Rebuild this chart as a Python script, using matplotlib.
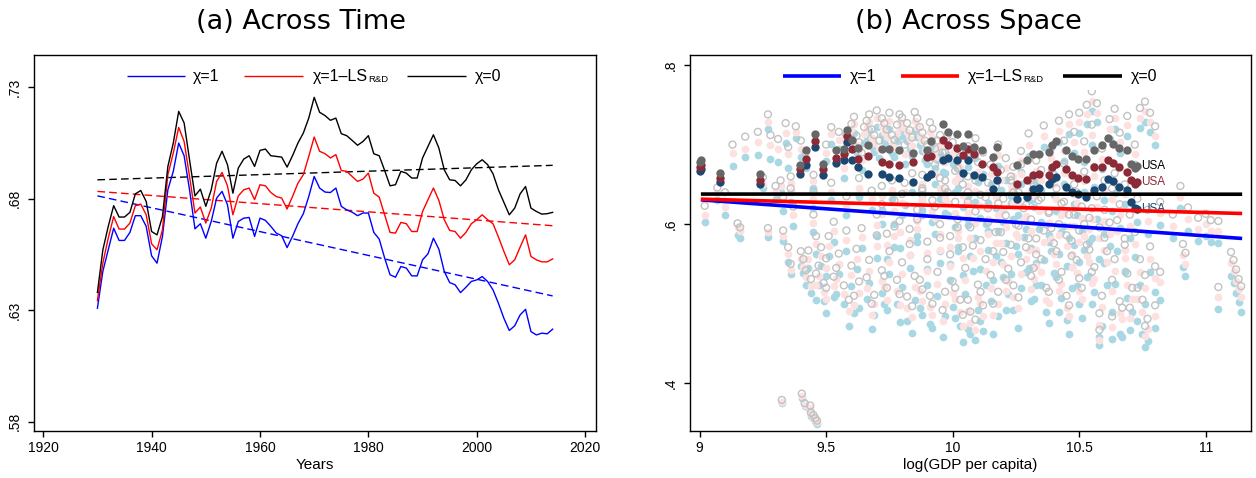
import matplotlib
matplotlib.use("Agg")
import matplotlib.pyplot as plt
from matplotlib.lines import Line2D
from matplotlib.patches import Rectangle

plt.rcParams['font.family'] = ['Liberation Sans', 'DejaVu Sans']

# ---------------- Panel (a): across time ----------------
years = list(range(1930, 2015))
chi0_time = [0.638, 0.657, 0.6676, 0.6769, 0.6718, 0.6718, 0.6739, 0.6822, 0.6837, 0.6788,
             0.6653, 0.6638, 0.672, 0.6945, 0.705, 0.7192, 0.714, 0.6975, 0.6813, 0.6843,
             0.6766, 0.684, 0.696, 0.7013, 0.6953, 0.6825, 0.6938, 0.6978, 0.6993, 0.6945,
             0.7017, 0.7023, 0.6993, 0.699, 0.6987, 0.6942, 0.6993, 0.705, 0.7095, 0.7162,
             0.7255, 0.7188, 0.7173, 0.7152, 0.7162, 0.7092, 0.7083, 0.7062, 0.704, 0.7057,
             0.7083, 0.7002, 0.6993, 0.6927, 0.6858, 0.6863, 0.6923, 0.6915, 0.6893, 0.6893,
             0.6983, 0.7035, 0.7087, 0.7028, 0.693, 0.6885, 0.6882, 0.6858, 0.6885, 0.693,
             0.6957, 0.6975, 0.6953, 0.6912, 0.684, 0.6784, 0.6728, 0.6758, 0.6822, 0.6855,
             0.6758, 0.6743, 0.6731, 0.6733, 0.6739]
chiLS_time = [0.6343, 0.6511, 0.6623, 0.672, 0.6664, 0.6664, 0.6691, 0.6769, 0.6776, 0.6728,
              0.6598, 0.6571, 0.6661, 0.6908, 0.7005, 0.712, 0.7057, 0.69, 0.6736, 0.6763,
              0.6691, 0.6758, 0.6878, 0.6918, 0.6858, 0.6728, 0.6813, 0.684, 0.6848, 0.6796,
              0.6863, 0.6858, 0.6828, 0.681, 0.6803, 0.6754, 0.681, 0.687, 0.6908, 0.699,
              0.7077, 0.7013, 0.7002, 0.6983, 0.6998, 0.6927, 0.6923, 0.69, 0.6878, 0.6888,
              0.6915, 0.6825, 0.6807, 0.6728, 0.6649, 0.6646, 0.6694, 0.6688, 0.6653, 0.6653,
              0.6743, 0.6796, 0.6848, 0.6793, 0.6706, 0.6658, 0.6653, 0.6623, 0.6649, 0.6688,
              0.6706, 0.6728, 0.6706, 0.6688, 0.6628, 0.6564, 0.6504, 0.6526, 0.6583, 0.6638,
              0.6541, 0.6526, 0.6517, 0.6517, 0.653]
chi1_time = [0.6309, 0.6474, 0.6571, 0.6668, 0.6613, 0.6613, 0.6649, 0.6724, 0.6724, 0.6676,
             0.6544, 0.6511, 0.6631, 0.684, 0.6923, 0.705, 0.6993, 0.684, 0.6665, 0.6688,
             0.6623, 0.6698, 0.6803, 0.6833, 0.6773, 0.6623, 0.6698, 0.6713, 0.6716, 0.6631,
             0.6713, 0.6703, 0.6676, 0.6646, 0.6634, 0.6581, 0.6631, 0.6688, 0.6733, 0.681,
             0.69, 0.6848, 0.683, 0.6828, 0.6848, 0.6766, 0.675, 0.674, 0.6724, 0.6736,
             0.6736, 0.6649, 0.6619, 0.6534, 0.6459, 0.6448, 0.6496, 0.6489, 0.6454, 0.6454,
             0.6526, 0.6553, 0.6623, 0.6574, 0.6474, 0.6424, 0.6414, 0.6379, 0.6403, 0.6429,
             0.6436, 0.6451, 0.6429, 0.6391, 0.6331, 0.6264, 0.6209, 0.623, 0.6279, 0.6304,
             0.6204, 0.6189, 0.6197, 0.6194, 0.6215]
trend_years = [1930, 2014]
trend_chi1 = [0.6813, 0.6364]
trend_chiLS = [0.6833, 0.6679]
trend_chi0 = [0.6885, 0.6950]
time_yticks = [0.58, 0.63, 0.68, 0.73]
time_yticklabels = ['.58', '.63', '.68', '.73']
time_xticks = [1920, 1940, 1960, 1980, 2000, 2020]

# ---------------- Panel (b): across space ----------------
left_x = [9.02, 9.07, 9.10, 9.13, 9.15, 9.16, 9.18, 9.23, 9.27, 9.28,
          9.25, 9.27, 9.31, 9.34, 9.35, 9.32, 9.33, 9.36, 9.38, 9.37]
left_chi0 = [0.623, 0.646, 0.640, 0.700, 0.601, 0.596, 0.710, 0.716, 0.738, 0.712,
             0.659, 0.595, 0.707, 0.727, 0.697, 0.655, 0.634, 0.645, 0.723, 0.622]
left_chiLS = [0.611, 0.639, 0.622, 0.689, 0.597, 0.591, 0.695, 0.703, 0.729, 0.700,
              0.650, 0.590, 0.695, 0.715, 0.688, 0.648, 0.628, 0.640, 0.716, 0.612]
left_chi1 = [0.603, 0.630, 0.612, 0.673, 0.586, 0.583, 0.684, 0.687, 0.719, 0.682,
             0.645, 0.584, 0.678, 0.702, 0.671, 0.641, 0.616, 0.628, 0.708, 0.598]

low_x = [9.33, 9.35, 9.36, 9.40, 9.41, 9.43, 9.42, 9.44, 9.45, 9.46,
         9.48, 9.47, 9.49, 9.50, 9.51, 9.53, 9.53, 9.55, 9.57, 9.58,
         9.60, 9.61, 9.62, 9.64, 9.66, 9.67, 9.69, 9.70, 9.72, 9.74,
         9.75, 9.77, 9.78, 9.80, 9.82, 9.83, 9.85, 9.86, 9.88, 9.90,
         9.92, 9.94, 9.95, 9.97, 9.99, 10.00, 10.02, 10.03, 10.05, 10.07,
         10.08, 10.10, 10.12, 10.13, 10.15, 10.17, 10.18, 10.20, 10.22, 10.24,
         10.25, 10.27, 10.29, 10.31, 10.33, 10.35, 10.37, 10.39, 10.41, 10.43,
         10.45, 10.47, 10.49, 10.50, 10.52, 10.54, 10.56, 10.58, 10.60, 10.62,
         10.64, 10.66, 10.68, 10.69, 10.71, 10.72, 10.74, 10.75, 10.76, 10.78,
         10.80]
low_chi0 = [0.592, 0.571, 0.550, 0.566, 0.556, 0.567, 0.542, 0.531, 0.612, 0.585,
            0.571, 0.548, 0.526, 0.557, 0.585, 0.534, 0.603, 0.563, 0.523, 0.592,
            0.548, 0.510, 0.569, 0.595, 0.533, 0.555, 0.511, 0.586, 0.542, 0.520,
            0.566, 0.597, 0.530, 0.552, 0.509, 0.575, 0.535, 0.606, 0.518, 0.556,
            0.500, 0.540, 0.583, 0.515, 0.562, 0.528, 0.596, 0.505, 0.545, 0.490,
            0.573, 0.524, 0.498, 0.556, 0.536, 0.590, 0.515, 0.565, 0.544, 0.523,
            0.600, 0.552, 0.571, 0.535, 0.582, 0.556, 0.520, 0.595, 0.566, 0.540,
            0.510, 0.579, 0.555, 0.532, 0.600, 0.568, 0.546, 0.488, 0.583, 0.602,
            0.556, 0.503, 0.574, 0.538, 0.520, 0.590, 0.556, 0.505, 0.536, 0.572,
            0.547]
low_chiLS = [0.585, 0.562, 0.542, 0.556, 0.546, 0.556, 0.533, 0.522, 0.601, 0.575,
             0.560, 0.535, 0.515, 0.545, 0.573, 0.522, 0.592, 0.550, 0.512, 0.580,
             0.536, 0.498, 0.556, 0.584, 0.520, 0.541, 0.499, 0.573, 0.528, 0.505,
             0.552, 0.585, 0.516, 0.537, 0.494, 0.561, 0.521, 0.594, 0.503, 0.541,
             0.486, 0.525, 0.568, 0.500, 0.547, 0.513, 0.582, 0.490, 0.530, 0.476,
             0.558, 0.509, 0.484, 0.541, 0.520, 0.576, 0.500, 0.550, 0.528, 0.508,
             0.587, 0.537, 0.556, 0.519, 0.567, 0.540, 0.505, 0.581, 0.550, 0.525,
             0.495, 0.563, 0.539, 0.516, 0.585, 0.552, 0.531, 0.473, 0.567, 0.588,
             0.541, 0.488, 0.558, 0.523, 0.506, 0.575, 0.540, 0.490, 0.520, 0.556,
             0.532]
low_chi1 = [0.579, 0.552, 0.537, 0.548, 0.538, 0.545, 0.524, 0.513, 0.590, 0.563,
            0.548, 0.523, 0.504, 0.535, 0.560, 0.508, 0.578, 0.537, 0.500, 0.566,
            0.522, 0.488, 0.543, 0.570, 0.506, 0.526, 0.486, 0.557, 0.513, 0.492,
            0.537, 0.571, 0.500, 0.521, 0.478, 0.545, 0.505, 0.578, 0.486, 0.524,
            0.470, 0.510, 0.551, 0.484, 0.530, 0.496, 0.566, 0.472, 0.512, 0.462,
            0.541, 0.492, 0.466, 0.524, 0.503, 0.560, 0.484, 0.534, 0.512, 0.492,
            0.572, 0.520, 0.540, 0.503, 0.551, 0.524, 0.489, 0.566, 0.534, 0.507,
            0.480, 0.546, 0.522, 0.500, 0.568, 0.535, 0.515, 0.458, 0.551, 0.572,
            0.525, 0.462, 0.541, 0.507, 0.490, 0.559, 0.524, 0.462, 0.500, 0.540,
            0.515]

low2_x = [9.46, 9.50, 9.54, 9.59, 9.63, 9.68, 9.73, 9.79, 9.84, 9.87,
          9.91, 9.96, 10.01, 10.04, 10.06, 10.09, 10.11, 10.16, 10.21, 10.26,
          10.32, 10.38, 10.42, 10.46, 10.51, 10.55, 10.59, 10.63, 10.67, 10.73]
low2_chi0 = [0.538, 0.520, 0.545, 0.505, 0.528, 0.500, 0.535, 0.512, 0.497, 0.530,
             0.510, 0.492, 0.520, 0.486, 0.505, 0.480, 0.515, 0.500, 0.530, 0.508,
             0.545, 0.515, 0.530, 0.498, 0.520, 0.540, 0.510, 0.530, 0.495, 0.520]
low2_chiLS = [0.524, 0.506, 0.531, 0.491, 0.514, 0.486, 0.521, 0.498, 0.483, 0.516,
              0.496, 0.478, 0.506, 0.472, 0.491, 0.467, 0.501, 0.486, 0.516, 0.494,
              0.531, 0.501, 0.516, 0.484, 0.506, 0.526, 0.496, 0.516, 0.481, 0.506]
low2_chi1 = [0.505, 0.488, 0.512, 0.472, 0.494, 0.468, 0.500, 0.477, 0.463, 0.494,
             0.474, 0.458, 0.482, 0.452, 0.468, 0.455, 0.478, 0.462, 0.492, 0.470,
             0.506, 0.476, 0.490, 0.462, 0.482, 0.500, 0.472, 0.490, 0.458, 0.478]

up_x = [9.40, 9.42, 9.45, 9.50, 9.52, 9.55, 9.57, 9.60, 9.62, 9.64,
        9.66, 9.68, 9.70, 9.71, 9.73, 9.75, 9.76, 9.78, 9.80, 9.81,
        9.83, 9.85, 9.87, 9.89, 9.91, 9.93, 9.95, 9.97, 10.00, 10.03,
        10.06, 10.09, 10.12, 10.15, 10.18, 10.21, 10.24, 10.27, 10.30, 10.33,
        10.36, 10.39, 10.42, 10.44, 10.46, 10.48, 10.50, 10.52, 10.53, 10.55,
        10.57, 10.59, 10.62, 10.64, 10.66, 10.69, 10.72, 10.74, 10.76, 10.78,
        10.80, 10.55]
up_chi0 = [0.705, 0.690, 0.662, 0.700, 0.722, 0.716, 0.680, 0.726, 0.711, 0.690,
           0.730, 0.719, 0.743, 0.705, 0.727, 0.740, 0.712, 0.725, 0.734, 0.700,
           0.718, 0.741, 0.722, 0.705, 0.728, 0.695, 0.712, 0.690, 0.703, 0.685,
           0.698, 0.708, 0.690, 0.675, 0.700, 0.683, 0.672, 0.692, 0.714, 0.680,
           0.724, 0.696, 0.730, 0.705, 0.738, 0.716, 0.740, 0.704, 0.750, 0.725,
           0.752, 0.695, 0.732, 0.745, 0.715, 0.736, 0.700, 0.746, 0.754, 0.740,
           0.723, 0.767]
up_chiLS = [0.695, 0.682, 0.654, 0.690, 0.713, 0.706, 0.670, 0.717, 0.700, 0.680,
            0.721, 0.708, 0.733, 0.694, 0.716, 0.730, 0.701, 0.715, 0.722, 0.688,
            0.707, 0.730, 0.711, 0.693, 0.716, 0.683, 0.700, 0.678, 0.690, 0.672,
            0.686, 0.696, 0.677, 0.663, 0.687, 0.670, 0.660, 0.679, 0.700, 0.667,
            0.711, 0.683, 0.717, 0.692, 0.726, 0.703, 0.728, 0.691, 0.738, 0.712,
            0.740, 0.682, 0.720, 0.733, 0.703, 0.724, 0.688, 0.734, 0.742, 0.728,
            0.711, 0.755]
up_chi1 = [0.684, 0.671, 0.646, 0.679, 0.701, 0.695, 0.658, 0.706, 0.690, 0.668,
           0.710, 0.697, 0.722, 0.683, 0.705, 0.719, 0.690, 0.704, 0.711, 0.676,
           0.695, 0.718, 0.700, 0.680, 0.704, 0.670, 0.688, 0.664, 0.676, 0.658,
           0.672, 0.683, 0.663, 0.650, 0.673, 0.656, 0.646, 0.665, 0.686, 0.653,
           0.697, 0.669, 0.703, 0.679, 0.713, 0.690, 0.715, 0.678, 0.726, 0.699,
           0.728, 0.669, 0.707, 0.720, 0.690, 0.711, 0.675, 0.721, 0.729, 0.716,
           0.699, 0.742]

up2_x = [9.58, 9.61, 9.63, 9.65, 9.67, 9.69, 9.72, 9.74, 9.77, 9.79,
         9.82, 9.84, 9.86, 9.88, 9.90, 9.92, 9.94, 9.96, 9.98, 10.02]
up2_chi0 = [0.712, 0.735, 0.703, 0.722, 0.738, 0.712, 0.733, 0.719, 0.706, 0.738,
            0.727, 0.709, 0.733, 0.715, 0.700, 0.720, 0.705, 0.690, 0.712, 0.695]
up2_chiLS = [0.703, 0.726, 0.693, 0.713, 0.729, 0.702, 0.723, 0.709, 0.696, 0.728,
             0.716, 0.698, 0.722, 0.704, 0.688, 0.708, 0.693, 0.678, 0.700, 0.683]
up2_chi1 = [0.692, 0.715, 0.682, 0.702, 0.718, 0.691, 0.712, 0.698, 0.684, 0.716,
            0.704, 0.686, 0.710, 0.692, 0.676, 0.696, 0.681, 0.665, 0.687, 0.670]

mid_x = [9.30, 9.36, 9.45, 9.52, 9.58, 9.63, 9.68, 9.72, 9.76, 9.80,
         9.84, 9.88, 9.92, 9.95, 9.98, 10.01, 10.04, 10.06, 10.09, 10.11,
         10.14, 10.17, 10.20, 10.23, 10.26, 10.29, 10.32, 10.35, 10.38, 10.41,
         10.44, 10.46, 10.49, 10.51, 10.54, 10.57, 10.60, 10.63, 10.66, 10.70,
         10.73, 10.77, 10.82, 10.87, 10.90, 10.93]
mid_chi0 = [0.648, 0.660, 0.641, 0.652, 0.635, 0.658, 0.642, 0.625, 0.655, 0.638,
            0.664, 0.645, 0.630, 0.658, 0.640, 0.667, 0.650, 0.628, 0.655, 0.637,
            0.620, 0.648, 0.632, 0.655, 0.640, 0.624, 0.650, 0.633, 0.616, 0.645,
            0.628, 0.612, 0.640, 0.622, 0.608, 0.635, 0.618, 0.645, 0.625, 0.612,
            0.632, 0.618, 0.628, 0.612, 0.648, 0.621]
mid_chiLS = [0.640, 0.652, 0.631, 0.641, 0.624, 0.646, 0.631, 0.613, 0.643, 0.626,
             0.652, 0.632, 0.617, 0.645, 0.627, 0.654, 0.637, 0.614, 0.642, 0.623,
             0.606, 0.634, 0.618, 0.641, 0.626, 0.610, 0.636, 0.619, 0.602, 0.631,
             0.614, 0.598, 0.626, 0.608, 0.594, 0.621, 0.604, 0.631, 0.611, 0.598,
             0.618, 0.604, 0.614, 0.598, 0.634, 0.607]
mid_chi1 = [0.632, 0.641, 0.620, 0.630, 0.612, 0.634, 0.618, 0.600, 0.631, 0.612,
            0.640, 0.618, 0.603, 0.632, 0.612, 0.641, 0.622, 0.599, 0.628, 0.608,
            0.591, 0.620, 0.603, 0.627, 0.611, 0.594, 0.621, 0.603, 0.586, 0.616,
            0.598, 0.582, 0.611, 0.592, 0.578, 0.606, 0.588, 0.616, 0.595, 0.582,
            0.603, 0.588, 0.599, 0.583, 0.620, 0.592]

mid2_x = [9.70, 9.72, 9.74, 9.77, 9.79, 9.81, 9.83, 9.86, 9.88, 9.90,
          9.93, 9.95, 9.97, 9.99, 10.01, 10.02, 10.04, 10.06, 10.07, 10.09,
          10.11, 10.13, 10.14, 10.16, 10.18, 10.19, 10.21, 10.23, 10.24, 10.26,
          10.28, 10.30, 10.31, 10.33, 10.34, 10.36, 10.38, 10.40, 10.42, 10.43,
          10.45, 10.47, 10.48, 10.50, 10.53, 10.55, 10.58, 10.61, 10.65, 10.68]
mid2_chi0 = [0.612, 0.648, 0.588, 0.630, 0.604, 0.652, 0.594, 0.618, 0.642, 0.578,
             0.622, 0.600, 0.645, 0.585, 0.628, 0.606, 0.571, 0.640, 0.596, 0.616,
             0.580, 0.634, 0.602, 0.566, 0.626, 0.590, 0.611, 0.574, 0.640, 0.598,
             0.620, 0.582, 0.606, 0.562, 0.630, 0.592, 0.614, 0.576, 0.600, 0.626,
             0.586, 0.560, 0.612, 0.592, 0.574, 0.620, 0.596, 0.566, 0.605, 0.582]
mid2_chiLS = [0.599, 0.636, 0.574, 0.617, 0.590, 0.640, 0.580, 0.604, 0.629, 0.564,
              0.608, 0.587, 0.632, 0.571, 0.614, 0.592, 0.557, 0.627, 0.582, 0.602,
              0.566, 0.620, 0.588, 0.552, 0.612, 0.576, 0.597, 0.560, 0.626, 0.584,
              0.606, 0.568, 0.592, 0.548, 0.616, 0.578, 0.600, 0.562, 0.586, 0.612,
              0.572, 0.546, 0.598, 0.578, 0.560, 0.606, 0.582, 0.552, 0.591, 0.568]
mid2_chi1 = [0.585, 0.618, 0.556, 0.600, 0.570, 0.624, 0.561, 0.585, 0.611, 0.544,
             0.588, 0.566, 0.614, 0.550, 0.596, 0.571, 0.536, 0.607, 0.560, 0.582,
             0.544, 0.600, 0.567, 0.530, 0.592, 0.552, 0.576, 0.537, 0.606, 0.562,
             0.584, 0.545, 0.570, 0.524, 0.594, 0.555, 0.578, 0.538, 0.562, 0.590,
             0.548, 0.520, 0.574, 0.552, 0.534, 0.583, 0.556, 0.524, 0.566, 0.540]

mid3_x = [9.88, 9.93, 9.97, 10.02, 10.06, 10.10, 10.14, 10.19, 10.23, 10.27,
          10.31, 10.35, 10.40, 10.44, 10.48, 10.52, 10.56, 10.60, 10.64, 10.68]
mid3_chi0 = [0.662, 0.675, 0.655, 0.670, 0.660, 0.678, 0.652, 0.668, 0.660, 0.675,
             0.655, 0.668, 0.662, 0.676, 0.650, 0.666, 0.672, 0.655, 0.664, 0.650]
mid3_chiLS = [0.650, 0.663, 0.643, 0.658, 0.648, 0.666, 0.640, 0.656, 0.648, 0.663,
              0.643, 0.656, 0.650, 0.664, 0.638, 0.654, 0.660, 0.643, 0.652, 0.638]
mid3_chi1 = [0.637, 0.650, 0.630, 0.645, 0.635, 0.653, 0.627, 0.643, 0.635, 0.650,
             0.630, 0.643, 0.637, 0.651, 0.625, 0.641, 0.647, 0.630, 0.639, 0.625]

tail_x = [10.97, 11.00, 11.02, 11.05, 11.10, 11.11, 11.12, 11.13, 11.14, 11.05,
          10.91, 10.92, 10.82, 10.80, 10.77, 10.76, 10.70, 10.63, 10.58]
tail_chi0 = [0.608, 0.613, 0.605, 0.604, 0.565, 0.555, 0.543, 0.531, 0.522, 0.521,
             0.575, 0.564, 0.540, 0.498, 0.481, 0.472, 0.495, 0.484, 0.467]
tail_chiLS = [0.594, 0.600, 0.592, 0.591, 0.551, 0.541, 0.529, 0.518, 0.509, 0.508,
              0.561, 0.550, 0.527, 0.485, 0.468, 0.460, 0.482, 0.471, 0.455]
tail_chi1 = [0.579, 0.585, 0.577, 0.576, 0.535, 0.526, 0.514, 0.502, 0.490, 0.493,
             0.546, 0.535, 0.505, 0.470, 0.453, 0.446, 0.467, 0.456, 0.448]

out_x = [9.325, 9.404, 9.415, 9.437, 9.44, 9.45, 9.457, 9.464]
out_chi0 = [0.379, 0.387, 0.375, 0.372, 0.363, 0.360, 0.356, 0.353]
out_chiLS = [0.377, 0.384, 0.373, 0.369, 0.361, 0.358, 0.354, 0.351]
out_chi1 = [0.375, 0.382, 0.371, 0.367, 0.359, 0.356, 0.352, 0.349]

usa_x = [9.000, 9.005, 9.082, 9.238, 9.398, 9.419, 9.455, 9.486, 9.540, 9.571,
         9.582, 9.602, 9.626, 9.665, 9.719, 9.750, 9.789, 9.843, 9.898, 9.913,
         9.960, 9.983, 10.019, 10.040, 10.060, 10.084, 10.115, 10.161, 10.174, 10.255,
         10.293, 10.317, 10.340, 10.379, 10.391, 10.410, 10.449, 10.472, 10.495, 10.526,
         10.557, 10.589, 10.612, 10.635, 10.658, 10.689, 10.705, 10.720, 10.728]
usa_chi0 = [0.6782, 0.6812, 0.6644, 0.6628, 0.6741, 0.6937, 0.7130, 0.6762, 0.6937, 0.6950,
            0.7180, 0.7063, 0.6962, 0.6992, 0.6950, 0.6950, 0.6937, 0.6895, 0.6929, 0.7046,
            0.7255, 0.7159, 0.7138, 0.6979, 0.7130, 0.6971, 0.6929, 0.6845, 0.6971, 0.6741,
            0.6803, 0.6879, 0.6887, 0.6908, 0.6992, 0.7046, 0.6929, 0.6854, 0.6824, 0.6824,
            0.6929, 0.6992, 0.7088, 0.7013, 0.6962, 0.6929, 0.6762, 0.6711, 0.6728]
usa_chiLS = [0.6720, 0.6749, 0.6582, 0.6552, 0.6690, 0.6824, 0.7046, 0.6695, 0.6837, 0.6887,
             0.7105, 0.6950, 0.6824, 0.6854, 0.6782, 0.6762, 0.6749, 0.6782, 0.6845, 0.6854,
             0.7054, 0.6992, 0.6962, 0.6866, 0.6946, 0.6879, 0.6762, 0.6720, 0.6657, 0.6510,
             0.6552, 0.6615, 0.6628, 0.6615, 0.6720, 0.6762, 0.6699, 0.6615, 0.6586, 0.6573,
             0.6720, 0.6720, 0.6803, 0.6770, 0.6720, 0.6657, 0.6561, 0.6502, 0.6531]
usa_chi1 = [0.6669, 0.6695, 0.6531, 0.6502, 0.6636, 0.6741, 0.6971, 0.6615, 0.6770, 0.6803,
            0.7033, 0.6803, 0.6720, 0.6628, 0.6628, 0.6594, 0.6582, 0.6531, 0.6594, 0.6636,
            0.6803, 0.6837, 0.6803, 0.6644, 0.6803, 0.6615, 0.6594, 0.6448, 0.6552, 0.6322,
            0.6343, 0.6448, 0.6460, 0.6510, 0.6573, 0.6594, 0.6469, 0.6406, 0.6377, 0.6343,
            0.6427, 0.6469, 0.6573, 0.6544, 0.6469, 0.6427, 0.6280, 0.6200, 0.6190]

fit_x = [9.005, 11.144]
fit_chi0 = [0.6378, 0.6376]
fit_chiLS = [0.6314, 0.6134]
fit_chi1 = [0.6305, 0.5820]
space_yticks = [0.4, 0.6, 0.8]
space_yticklabels = ['.4', '.6', '.8']
space_xticks = [9, 9.5, 10, 10.5, 11]
space_xticklabels = ['9', '9.5', '10', '10.5', '11']

# legend labels; "R&D" is drawn as a small subscript after the middle label
labels = ['\u03c7=1', '\u03c7=1\u2013LS', '\u03c7=0']
label_sub = 'R&D'
series_colors = ['#0000ff', '#ff0000', '#000000']

# ---------------- figure ----------------
W, H = 1256, 478
fig = plt.figure(figsize=(W / 100, H / 100), dpi=100)

ax1 = fig.add_axes([34 / W, 47 / H, 562 / W, 376 / H])
ax2 = fig.add_axes([690 / W, 47 / H, 561 / W, 376 / H])

# panel a
ax1.plot(years, chi1_time, color=series_colors[0], lw=1.0, zorder=3)
ax1.plot(years, chiLS_time, color=series_colors[1], lw=1.0, zorder=3)
ax1.plot(years, chi0_time, color=series_colors[2], lw=1.0, zorder=3)
ax1.plot(trend_years, trend_chi1, color=series_colors[0], lw=1.0, ls=(0, (5.5, 3)), zorder=2)
ax1.plot(trend_years, trend_chiLS, color=series_colors[1], lw=1.0, ls=(0, (5.5, 3)), zorder=2)
ax1.plot(trend_years, trend_chi0, color=series_colors[2], lw=1.0, ls=(0, (5.5, 3)), zorder=2)
ax1.set_xlim(1918.3, 2022)
ax1.set_ylim(0.5758, 0.7445)
ax1.set_xticks(time_xticks)
ax1.set_yticks(time_yticks)
ax1.set_yticklabels(time_yticklabels, rotation=90, va='center')
ax1.set_xlabel('Years', fontsize=11, labelpad=2)

# panel b
bg_sets = [(left_x, left_chi0, left_chiLS, left_chi1),
           (low_x, low_chi0, low_chiLS, low_chi1),
           (low2_x, low2_chi0, low2_chiLS, low2_chi1),
           (up_x, up_chi0, up_chiLS, up_chi1),
           (up2_x, up2_chi0, up2_chiLS, up2_chi1),
           (mid_x, mid_chi0, mid_chiLS, mid_chi1),
           (mid2_x, mid2_chi0, mid2_chiLS, mid2_chi1),
           (mid3_x, mid3_chi0, mid3_chiLS, mid3_chi1),
           (tail_x, tail_chi0, tail_chiLS, tail_chi1),
           (out_x, out_chi0, out_chiLS, out_chi1)]
ms = 31
for xs, c0, cls, c1 in bg_sets:
    ax2.scatter(xs, c1, s=ms, color='#a8d8e4', linewidths=0, zorder=2)
for xs, c0, cls, c1 in bg_sets:
    ax2.scatter(xs, cls, s=ms, color='#fde0e0', linewidths=0, zorder=3)
for xs, c0, cls, c1 in bg_sets:
    ax2.scatter(xs, c0, s=25, facecolors='none', edgecolors='#c2c2c2',
                linewidths=1.0, zorder=4)

ax2.scatter(usa_x, usa_chi1, s=36, color='#1b4872', linewidths=0, zorder=5)
ax2.scatter(usa_x, usa_chiLS, s=36, color='#8c2b37', linewidths=0, zorder=5)
ax2.scatter(usa_x, usa_chi0, s=36, color='#676767', linewidths=0, zorder=5)

for ys, col in [(usa_chi0, '#000000'), (usa_chiLS, '#8c2b37'), (usa_chi1, '#1b4872')]:
    ax2.annotate('USA', (usa_x[-1], ys[-1]), xytext=(3, 0), textcoords='offset points',
                 ha='left', va='center', fontsize=8.5, color=col, zorder=6)

ax2.plot(fit_x, fit_chi1, color=series_colors[0], lw=2.6, zorder=7, solid_capstyle='butt')
ax2.plot(fit_x, fit_chiLS, color=series_colors[1], lw=2.6, zorder=7, solid_capstyle='butt')
ax2.plot(fit_x, fit_chi0, color=series_colors[2], lw=2.6, zorder=7, solid_capstyle='butt')

ax2.set_xlim(8.962, 11.179)
ax2.set_ylim(0.340, 0.8126)
ax2.set_xticks(space_xticks)
ax2.set_xticklabels(space_xticklabels)
ax2.set_yticks(space_yticks)
ax2.set_yticklabels(space_yticklabels, rotation=90, va='center')
ax2.set_xlabel('log(GDP per capita)', fontsize=11, labelpad=2)

for ax in (ax1, ax2):
    for sp in ax.spines.values():
        sp.set_linewidth(1.0)
        sp.set_color('black')
    ax.tick_params(direction='out', length=4.5, width=1.0, labelsize=10, pad=3)
    ax.tick_params(axis='y', pad=4)

# ---- legends (drawn in figure pixel positions, keys as in the reference) ----
renderer = fig.canvas.get_renderer()


def draw_key(line_x, text_x, y_px, lw, box=None):
    if box is not None:
        fig.add_artist(Rectangle((box[0] / W, 1 - box[3] / H), (box[2] - box[0]) / W,
                                 (box[3] - box[1]) / H, transform=fig.transFigure,
                                 facecolor='white', edgecolor='none', zorder=1))
    for i in range(3):
        fig.add_artist(Line2D([line_x[i][0] / W, line_x[i][1] / W],
                              [1 - y_px / H, 1 - y_px / H], transform=fig.transFigure,
                              color=series_colors[i], lw=lw, solid_capstyle='butt', zorder=3))
        t = fig.text(text_x[i] / W, 1 - (y_px + 5.5) / H, labels[i], fontsize=11.5,
                     ha='left', va='baseline', zorder=3)
        if i == 1:
            bb = t.get_window_extent(renderer)
            fig.text((bb.x1 + 0.3) / W, 1 - (y_px + 5.5) / H, label_sub, fontsize=6.8,
                     ha='left', va='baseline', zorder=3)


draw_key([(127, 185), (244, 303), (407, 466)], [193, 313, 475], 76, 1.0)
draw_key([(783, 841), (901, 959), (1063, 1122)], [850, 968, 1131], 76, 2.6,
         box=(772, 62, 1172, 90))

fig.text(301 / W, 1 - 22 / H, '(a) Across Time', ha='center', va='center',
         fontsize=19.5, family='DejaVu Sans')
fig.text(968 / W, 1 - 22 / H, '(b) Across Space', ha='center', va='center',
         fontsize=19.5, family='DejaVu Sans')

fig.savefig('out.png', dpi=100, facecolor='white')
